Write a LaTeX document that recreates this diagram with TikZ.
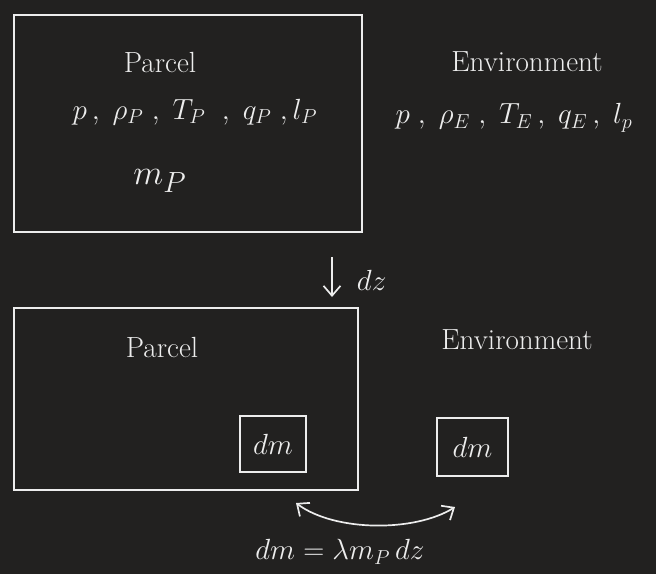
\documentclass[tikz,border=0pt]{standalone}
\usetikzlibrary{arrows.meta}
\definecolor{board}{HTML}{222120}
\definecolor{chalk}{HTML}{EDEDED}
\begin{document}
\begin{tikzpicture}[x=0.025cm,y=-0.025cm,>={Straight Barb[length=7pt,width=12pt]},
	every node/.style={text=chalk,font=\huge},
	box/.style={draw=chalk,line width=1.2pt,inner sep=0pt}]
	\def\mybw{1.2pt}
	% background and page size
	\fill[board] (0,0) rectangle (656,574);
	% before the step
	\node[box,minimum width=8.7cm,minimum height=5.425cm] (parcela) at (188,123.5) {};
	\node (parcelatitle) at (160,62) {Parcel};
	\node (parcelavars) at (195,112) {$p\,,\;\rho_P\;,\;T_P\;\;,\;q_P\;,l_P$};
	\node[font=\Huge] (parcelamass) at (160,181) {$m_P$};
	\node (enva) at (527,62) {Environment};
	\node (envavars) at (514,118) {$p\;,\;\rho_E\;,\;T_E\,,\;q_E\,,\;l_p$};
	% descent by dz
	\coordinate (dztop) at (332,257);
	\coordinate (dzbot) at (332,297);
	\draw[->,chalk,line width=\mybw] (dztop) -- (dzbot);
	\node[anchor=west] (dzlabel) at (352,280) {$dz$};
	% after the step
	\node[box,minimum width=8.6cm,minimum height=4.55cm] (parcelb) at (186,399) {};
	\node (parcelbtitle) at (162,347) {Parcel};
	\node (envb) at (517,340) {Environment};
	\node[box,minimum width=1.65cm,minimum height=1.4cm] (dmin) at (273,444) {$dm$};
	\node[box,minimum width=1.775cm,minimum height=1.45cm] (dmout) at (472.5,447) {$dm$};
	% exchange of dm
	\coordinate (exa) at (296,503);
	\coordinate (exb) at (455,507);
	\draw[<->,chalk,line width=\mybw] (exa) .. controls (335,532) and (415,532) .. (exb);
	\node (exlabel) at (340,552) {$dm=\lambda m_P\,dz$};
\end{tikzpicture}
\end{document}
